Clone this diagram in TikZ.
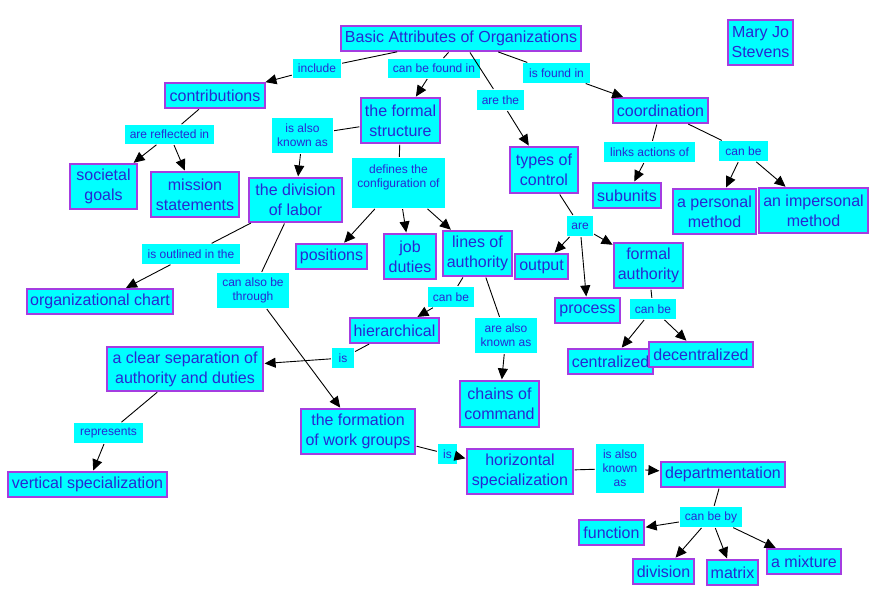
\documentclass[tikz,border=0pt]{standalone}
\usepackage{fontspec}
\setmainfont{Liberation Sans}
\usetikzlibrary{arrows.meta}
\definecolor{cfill}{RGB}{0,255,255}
\definecolor{cborder}{RGB}{165,60,225}
\definecolor{ctext}{RGB}{40,40,210}
\tikzset{
  base/.style={fill=cfill, text=ctext, align=center, inner sep=0pt},
  concept/.style={base, draw=cborder, line width=1.2pt, font=\fontsize{16}{20}\selectfont},
  link/.style={base, font=\fontsize{12}{14}\selectfont},
  ln/.style={draw=black, line width=0.9pt, shorten <=1pt, shorten >=1pt},
  arr/.style={ln, -{Triangle[length=11pt,width=10pt]}},
}
\newcommand{\cn}[6]{\node[concept, minimum width=#4pt, minimum height=#5pt] (#1) at (#2,#3) {#6};}
\newcommand{\lk}[6]{\node[link, minimum width=#4pt, minimum height=#5pt] (#1) at (#2,#3) {#6};}
\begin{document}
\begin{tikzpicture}[x=1pt,y=-1pt]
\useasboundingbox (0,0) rectangle (880,605);
% link labels
\lk{include}{317}{68.5}{48}{19}{include}
\lk{canfound}{434}{68.5}{92}{19}{can be found in}
\lk{isfound}{556.5}{73}{67}{20}{is found in}
\lk{arethe}{500.5}{100}{47}{20}{are the}
\lk{reflected}{169.5}{134.5}{89}{19}{are reflected in}
\lk{alsoknownA}{302.5}{135.5}{61}{35}{is also\\known as}
\lk{defines}{398.5}{183}{93}{50}{defines the\\configuration of\\~}
\lk{linksact}{649.5}{152}{91}{20}{links actions of}
\lk{canbeC}{743.5}{151}{49}{20}{can be}
\lk{are}{580}{226}{26}{20}{are}
\lk{canbeF}{653}{309}{46}{20}{can be}
\lk{outlined}{191}{254}{98}{20}{is outlined in the}
\lk{through}{253}{290.5}{72}{35}{can also be\\through}
\lk{canbeL}{451}{297}{46}{20}{can be}
\lk{alsoknownB}{506}{335.5}{62}{35}{are also\\known as}
\lk{isH}{343}{358}{22}{20}{is}
\lk{represents}{108.5}{433}{69}{20}{represents}
\lk{isF}{447.5}{454}{19}{20}{is}
\lk{alsoknownC}{620}{468.5}{48}{49}{is also\\known\\as}
\lk{canbeby}{711}{517}{62}{20}{can be by}
% concepts
\cn{basic}{461}{38.5}{240}{25}{Basic Attributes of Organizations}
\cn{mary}{760.5}{42.5}{65}{45}{Mary Jo\\Stevens}
\cn{contrib}{215}{95.5}{100}{25}{contributions}
\cn{formal}{400.5}{120.5}{79}{45}{the formal\\structure}
\cn{coord}{660.5}{110.5}{95}{25}{coordination}
\cn{types}{544}{170}{68}{46}{types of\\control}
\cn{societal}{103.5}{186.5}{67}{45}{societal\\goals}
\cn{mission}{195}{194.5}{88}{45}{mission\\statements}
\cn{division}{295.5}{200}{93}{44}{the division\\of labor}
\cn{positions}{331.5}{256.5}{71}{25}{positions}
\cn{job}{410}{256.5}{52}{45}{job\\duties}
\cn{lines}{477.5}{253.5}{69}{45}{lines of\\authority}
\cn{output}{541.5}{266.5}{53}{25}{output}
\cn{fauth}{648.5}{265.5}{69}{45}{formal\\authority}
\cn{process}{587.5}{310.5}{65}{25}{process}
\cn{central}{610.5}{361.5}{85}{25}{centralized}
\cn{decentral}{701}{354.5}{104}{25}{decentralized}
\cn{subunits}{627}{195.5}{68}{25}{subunits}
\cn{personal}{714.5}{211.5}{83}{45}{a personal\\method}
\cn{impersonal}{813.5}{210.5}{109}{45}{an impersonal\\method}
\cn{orgchart}{100}{301.5}{146}{25}{organizational chart}
\cn{hier}{394.5}{330.5}{89}{25}{hierarchical}
\cn{clear}{185}{369}{156}{44}{a clear separation of\\authority and duties}
\cn{chains}{499.5}{404}{79}{46}{chains of\\command}
\cn{formation}{358}{431.5}{114}{45}{the formation\\of work groups}
\cn{vertical}{87.5}{484.5}{159}{25}{vertical specialization}
\cn{horiz}{520}{471.5}{106}{45}{horizontal\\specialization}
\cn{depart}{723}{474.5}{124}{25}{departmentation}
\cn{function}{611.5}{532.5}{65}{25}{function}
\cn{divis}{663.5}{571.5}{61}{25}{division}
\cn{matrix}{732.5}{572.5}{51}{25}{matrix}
\cn{mixture}{804}{561.5}{74}{25}{a mixture}
% connectors
\draw[ln] (basic) -- (include);
\draw[arr] (include) -- (contrib);
\draw[ln] (basic) -- (canfound);
\draw[arr] (canfound) -- (formal);
\draw[ln] (basic) -- (arethe);
\draw[arr] (arethe) -- (types);
\draw[ln] (basic) -- (isfound);
\draw[arr] (isfound) -- (coord);
\draw[ln] (contrib) -- (reflected);
\draw[arr] (reflected) -- (societal);
\draw[arr] (reflected) -- (mission);
\draw[ln] (formal) -- (alsoknownA);
\draw[arr] (alsoknownA) -- (division);
\draw[ln] (formal) -- (defines);
\draw[arr] (defines) -- (positions);
\draw[arr] (defines) -- (job);
\draw[arr] (defines) -- (lines);
\draw[ln] (division) -- (outlined);
\draw[arr] (outlined) -- (orgchart);
\draw[ln] (division) -- (through);
\draw[arr] (through) -- (formation);
\draw[ln] (lines) -- (canbeL);
\draw[arr] (canbeL) -- (hier);
\draw[ln] (lines) -- (alsoknownB);
\draw[arr] (alsoknownB) -- (chains);
\draw[ln] (hier) -- (isH);
\draw[arr] (isH) -- (clear);
\draw[ln] (clear) -- (represents);
\draw[arr] (represents) -- (vertical);
\draw[ln] (formation) -- (isF);
\draw[arr] (isF) -- (horiz);
\draw[ln] (horiz) -- (alsoknownC);
\draw[arr] (alsoknownC) -- (depart);
\draw[ln] (depart) -- (canbeby);
\draw[arr] (canbeby) -- (function);
\draw[arr] (canbeby) -- (divis);
\draw[arr] (canbeby) -- (matrix);
\draw[arr] (canbeby) -- (mixture);
\draw[ln] (types) -- (are);
\draw[arr] (are) -- (output);
\draw[arr] (are) -- (process);
\draw[arr] (are) -- (fauth);
\draw[ln] (fauth) -- (canbeF);
\draw[arr] (canbeF) -- (central);
\draw[arr] (canbeF) -- (decentral);
\draw[ln] (coord) -- (linksact);
\draw[arr] (linksact) -- (subunits);
\draw[ln] (coord) -- (canbeC);
\draw[arr] (canbeC) -- (personal);
\draw[arr] (canbeC) -- (impersonal);
\end{tikzpicture}
\end{document}
